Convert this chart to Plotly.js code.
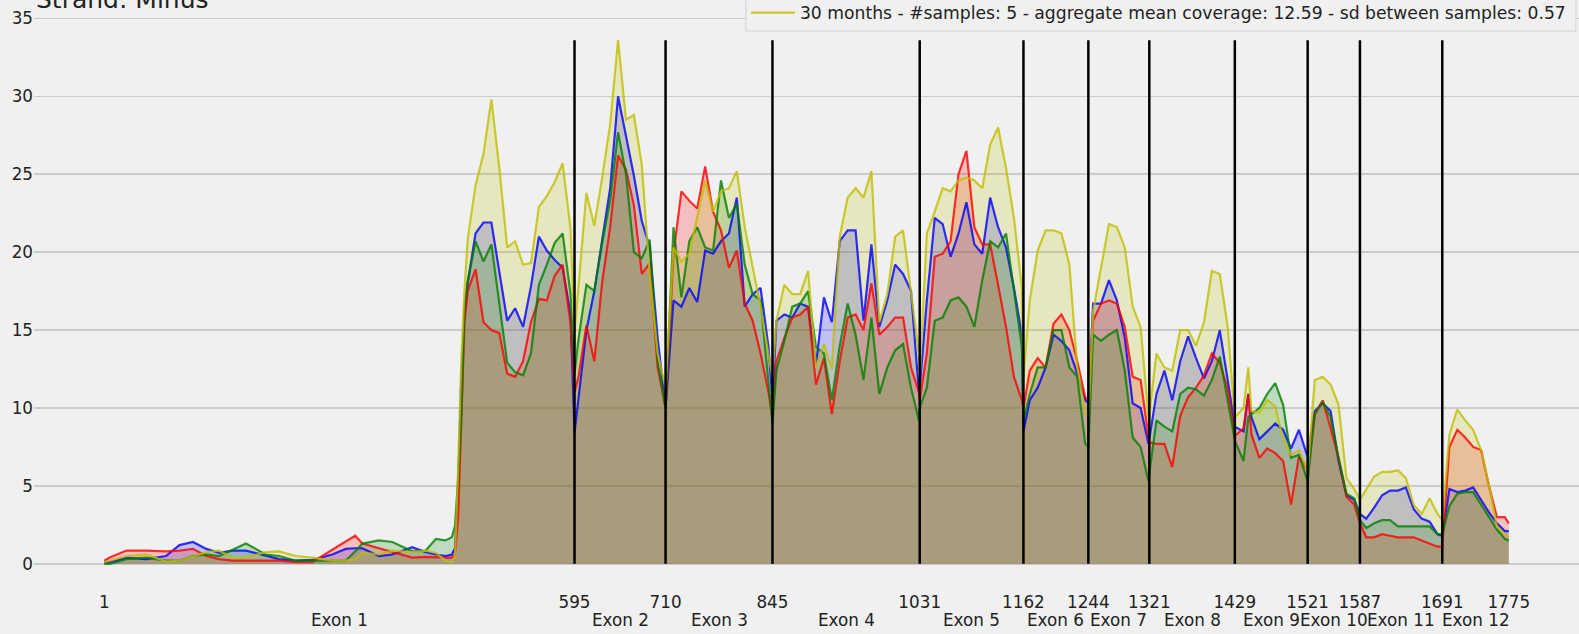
<!DOCTYPE html>
<html>
<head>
<meta charset="utf-8">
<script src="https://cdn.plot.ly/plotly-3.0.1.min.js"></script>
<style>html,body{margin:0;padding:0;background:#f0f0f0;}#chart{width:1579px;height:634px;}</style>
</head>
<body>
<div id="chart"></div>
<script>
// Transcript positions (x) shared by all series
const positions = [1, 8, 29, 54, 79, 96, 113, 130, 146, 163, 180, 205, 222, 243, 264, 289, 306, 318, 327, 348, 365, 390, 407, 420, 432, 440, 444, 448, 452, 456,
  460, 470, 480, 490, 500, 510, 520, 530, 540, 550, 560, 570, 580, 590, 595,
  600, 610, 620, 630, 640, 650, 660, 670, 680, 690, 700, 710,
  720, 730, 740, 750, 760, 770, 780, 790, 800, 810, 820, 830, 840, 845,
  850, 860, 870, 880, 890, 900, 910, 920, 930, 940, 950, 960, 970, 980, 990, 1000, 1010, 1020, 1030, 1031,
  1040, 1050, 1060, 1070, 1080, 1090, 1100, 1110, 1120, 1130, 1140, 1150, 1160, 1162,
  1170, 1180, 1190, 1200, 1210, 1220, 1230, 1240, 1244,
  1250, 1260, 1270, 1280, 1290, 1300, 1310, 1320, 1321,
  1330, 1340, 1350, 1360, 1370, 1380, 1390, 1400, 1410, 1420, 1429,
  1440, 1446, 1450, 1460, 1470, 1480, 1490, 1500, 1510, 1520, 1521,
  1530, 1540, 1550, 1560, 1570, 1580, 1587,
  1595, 1605, 1615, 1625, 1635, 1645, 1655, 1665, 1675, 1685, 1691,
  1700, 1710, 1720, 1730, 1740, 1750, 1760, 1770, 1775];

const coverageRed = [0.2, 0.4, 0.85, 0.85, 0.8, 0.85, 0.96, 0.5, 0.3, 0.2, 0.2, 0.2, 0.2, 0.1, 0.1, 0.9, 1.4, 1.8, 1.3, 1.0, 0.75, 0.4, 0.45, 0.4, 0.4, 0.4, 0.6, 3, 10, 15.5,
  17.5, 18.9, 15.5, 15, 14.8, 12.2, 12, 13, 15.5, 17, 16.9, 18.5, 19.2, 15.4, 11,
  12, 15.3, 13, 18.1, 21.6, 26.2, 25.3, 23, 18.6, 19.3, 12.6, 10,
  19.9, 23.9, 23.3, 22.8, 25.5, 22.6, 21.4, 19, 20.1, 16.7, 15.6, 13.5, 11, 9.4,
  13, 14.5, 15.8, 16, 16.5, 11.5, 13.2, 9.6, 13, 15.8, 16, 15, 18, 14.7, 15.2, 15.8, 15.8, 12.6, 11, 10.5,
  13.5, 19.7, 19.9, 20.7, 25, 26.5, 21.6, 20.5, 20.5, 17.9, 15.2, 12, 10.5, 10,
  12.4, 13.2, 12.6, 15.4, 16, 15, 13, 10.7, 10.5,
  15.6, 16.7, 16.9, 16.7, 15.2, 12, 11.8, 7.9, 7.8,
  7.7, 7.7, 6.2, 9.5, 10.7, 11.3, 12.1, 13.5, 12.9, 11.2, 8.2,
  8.7, 10.9, 8.3, 6.8, 7.4, 7.1, 6.6, 3.8, 6.9, 6.1, 6,
  9.6, 10.5, 8.7, 6.8, 4.3, 3.8, 2.6,
  1.7, 1.7, 1.9, 1.8, 1.7, 1.7, 1.7, 1.5, 1.3, 1.1, 1.1,
  7.5, 8.6, 8.1, 7.5, 7.3, 5, 3, 3, 2.6];

const coverageBlue = [0.1, 0.1, 0.38, 0.3, 0.5, 1.2, 1.4, 0.96, 0.7, 0.85, 0.85, 0.55, 0.3, 0.2, 0.25, 0.6, 0.96, 1.0, 1.0, 0.5, 0.6, 1.07, 0.75, 0.6, 0.5, 0.6, 1, 5, 12, 16,
  18, 21.2, 21.9, 21.9, 18.8, 15.6, 16.4, 15.2, 17.8, 21, 20.1, 19.5, 19, 16, 8.4,
  10.5, 15, 17.5, 20.7, 24.1, 30, 27.5, 24.9, 22, 20.3, 14.5, 10,
  16.9, 16.5, 17.7, 16.8, 20.1, 19.9, 20.7, 21.2, 23.5, 16.5, 17.3, 17.7, 13.9, 10.5,
  15.6, 16, 15.8, 16.7, 16.5, 12.8, 17.1, 15.5, 20.7, 21.4, 21.4, 15.6, 20.5, 15.2, 16.9, 19.2, 18.6, 17.5, 11, 11.3,
  16.9, 22.2, 21.8, 19.7, 21.2, 23.2, 20.5, 19.9, 23.5, 21.6, 20.3, 17.7, 14.7, 8.5,
  10.5, 11.3, 12.6, 14.7, 14.3, 13.7, 12.2, 10.5, 10.3,
  16.7, 16.7, 18.2, 16.9, 14.5, 10.3, 10, 7.7, 8,
  10.9, 12.4, 10.5, 13, 14.6, 13.2, 11.9, 13, 15, 11.8, 8.8,
  8.5, 10.9, 9.4, 8, 8.5, 9, 8.6, 7.4, 8.6, 7, 7,
  9.8, 10.3, 9.8, 6.6, 4.4, 4.1, 3.2,
  2.9, 3.6, 4.4, 4.7, 4.7, 4.9, 3.5, 2.9, 2.7, 1.9, 1.8,
  4.8, 4.6, 4.7, 4.9, 4.1, 3.3, 2.6, 2.1, 2.1];

const coverageGreen = [0, 0, 0.3, 0.4, 0.2, 0.2, 0.5, 0.6, 0.5, 0.9, 1.3, 0.6, 0.5, 0.2, 0.2, 0.2, 0.2, 0.8, 1.3, 1.5, 1.4, 0.8, 0.85, 1.6, 1.5, 1.7, 2.4, 5.5, 9.3, 16.5,
  18.1, 20.7, 19.4, 20.5, 16.6, 12.9, 12.3, 12.1, 13.5, 17.9, 19.2, 20.6, 21.2, 17.3, 12.2,
  14.4, 17.9, 17.5, 20.6, 23.3, 27.7, 25, 20, 19.6, 20.8, 13, 10,
  21.6, 17.1, 20.7, 21.6, 20.3, 20.1, 24.6, 22.2, 23.1, 19.2, 17.3, 16.9, 11.8, 9,
  12.4, 14.3, 16.5, 16.7, 17.5, 13.9, 13.5, 10.5, 14, 16.7, 14.7, 11.8, 15.8, 10.9, 12.6, 13.7, 14.1, 11.3, 9.2, 10,
  11.3, 15.6, 15.8, 16.9, 17.1, 16.5, 15.2, 18.2, 20.7, 20.3, 21.2, 17.7, 13.9, 9.2,
  10.9, 12.6, 12.6, 15, 15, 12.6, 12, 7.7, 7.5,
  14.7, 14.3, 14.7, 15, 12.4, 8.1, 7.5, 5.3, 5.8,
  9.2, 8.8, 8.5, 10.9, 11.3, 11.2, 10.8, 11.8, 13.3, 10.5, 7.9,
  6.6, 9.4, 9.6, 10, 10.9, 11.6, 10.2, 6.8, 7, 5.5, 5.3,
  9.6, 10.4, 9.4, 6.8, 4.5, 4.2, 2.8,
  2.3, 2.6, 2.8, 2.8, 2.4, 2.4, 2.4, 2.4, 2.4, 1.9, 1.9,
  3.7, 4.5, 4.6, 4.6, 3.8, 3, 2.2, 1.6, 1.5];

const coverageYellow = [0.1, 0.2, 0.5, 0.6, 0.15, 0.2, 0.5, 0.75, 0.85, 0.4, 0.4, 0.75, 0.8, 0.5, 0.4, 0.2, 0.2, 0.3, 0.7, 0.6, 0.85, 0.75, 0.85, 0.7, 0.2, 0.1, 0.5, 6, 13, 17.5,
  20.8, 24.3, 26.3, 29.8, 25.4, 20.3, 20.7, 19.2, 19.3, 22.9, 23.6, 24.5, 25.7, 21.5, 14.8,
  18, 23.8, 21.7, 24.8, 28.2, 33.6, 28.5, 28.8, 25.6, 18.5, 13.5, 11.3,
  20.3, 19.4, 19.9, 22.3, 24.6, 22.6, 23.9, 24.1, 25.2, 21.6, 19, 16.5, 13.4, 12,
  15.6, 17.9, 17.3, 17.3, 18.8, 12.6, 14.1, 12.5, 21, 23.5, 24.1, 23.5, 25.2, 15.5, 17.3, 21, 21.4, 17.5, 13.5, 12,
  21.2, 22.6, 24.1, 23.9, 24.6, 24.8, 24.6, 24.1, 26.9, 28, 25.4, 22.2, 17.7, 12,
  16.9, 20.1, 21.4, 21.4, 21.2, 19.2, 12.6, 9.8, 9.4,
  16.2, 19, 21.8, 21.6, 20.3, 16.5, 15.2, 9.4, 9.6,
  13.5, 12.6, 12.4, 15, 15, 14, 15.5, 18.8, 18.6, 15.2, 9.4,
  10, 12.6, 9.8, 9.7, 10.5, 10.1, 8, 7, 7.3, 6.1, 6,
  11.8, 12, 11.5, 10.2, 5.5, 4.8, 4.1,
  4.8, 5.6, 5.9, 5.9, 6, 5.5, 3.8, 3.2, 4.2, 3.2, 2.8,
  8.3, 9.9, 9.2, 8.6, 7.3, 5, 2.4, 1.9, 1.7];

// Exon boundaries and labels
const exonBoundaries = [595, 710, 845, 1031, 1162, 1244, 1321, 1429, 1521, 1587, 1691];
const tickPositions = [1, 595, 710, 845, 1031, 1162, 1244, 1321, 1429, 1521, 1587, 1691, 1775];
const exonLabels = ["Exon 1", "Exon 2", "Exon 3", "Exon 4", "Exon 5", "Exon 6", "Exon 7", "Exon 8", "Exon 9", "Exon 10", "Exon 11", "Exon 12"];
const legendLabel = "30 months - #samples: 5 - aggregate mean coverage: 12.59 - sd between samples: 0.57";
const chartTitle = "Strand: Minus";

const FONT = "DejaVu Sans, Liberation Sans, sans-serif";
const TXT = "#222222";
const series = [
  {name: "group 2", y: coverageBlue, rgb: "0,0,255", legend: false},
  {name: "group 1", y: coverageRed, rgb: "255,0,0", legend: false},
  {name: "group 3", y: coverageGreen, rgb: "0,128,0", legend: false},
  {name: legendLabel, y: coverageYellow, rgb: "191,191,0", legend: true}
];

// fills first (below), then lines on top of all fills
const fillTraces = series.map(s => ({
  type: "scatter", mode: "none", x: positions, y: s.y, name: s.name + " fill",
  showlegend: false, fill: "tozeroy", fillcolor: "rgba(" + s.rgb + ",0.2)", hoverinfo: "skip"
}));
const lineTraces = series.map(s => ({
  type: "scatter", mode: "lines", x: positions, y: s.y, name: s.name,
  showlegend: s.legend, line: {color: "rgba(" + s.rgb + ",0.8)", width: 2.2}, hoverinfo: "skip"
}));

const ymax = Math.max(...coverageRed, ...coverageBlue, ...coverageGreen, ...coverageYellow);
const shapes = exonBoundaries.map(b => ({
  type: "line", xref: "x", yref: "y", x0: b, x1: b, y0: 0, y1: ymax,
  line: {color: "#000000", width: 2.5}, layer: "above"
}));
// legend frame (its upper part runs past the top edge of the figure)
shapes.push({
  type: "rect", xref: "paper", yref: "paper", x0: 0.4608, x1: 0.998, y0: 0.9705, y1: 1.06,
  line: {color: "#d3d3d3", width: 1}, fillcolor: "#f0f0f0", layer: "above"
});

const allBounds = [1].concat(exonBoundaries).concat([1775]);
const annotations = exonLabels.map((t, i) => ({
  text: t, xref: "x", yref: "paper", x: (allBounds[i] + allBounds[i + 1]) / 2,
  y: -0.052, yanchor: "middle", xanchor: "center", showarrow: false,
  font: {family: FONT, size: 16.8, color: TXT}
}));
annotations.push({
  text: chartTitle, xref: "paper", yref: "paper", x: 0, y: 1.025,
  xanchor: "left", yanchor: "middle", showarrow: false,
  font: {family: FONT, size: 25, color: TXT}
});

const layout = {
  width: 1579, height: 634,
  paper_bgcolor: "#f0f0f0", plot_bgcolor: "#f0f0f0",
  margin: {l: 34, r: 0, t: 14, b: 44, autoexpand: false},
  font: {family: FONT, size: 16.8, color: TXT},
  xaxis: {
    range: [-87.7, 1863.7], tickmode: "array", tickvals: tickPositions,
    ticktext: tickPositions.map(String), showgrid: false, zeroline: false,
    showline: false, ticks: "", tickfont: {family: FONT, size: 16.8, color: TXT}
  },
  yaxis: {
    range: [-1.68, 35.28], tickmode: "array", tickvals: [0, 5, 10, 15, 20, 25, 30, 35],
    showgrid: true, gridcolor: "#cbcbcb", gridwidth: 1.5, zeroline: false,
    showline: false, ticks: "", tickfont: {family: FONT, size: 16.8, color: TXT}
  },
  shapes: shapes,
  annotations: annotations,
  showlegend: true,
  legend: {
    x: 0.4608, xanchor: "left", y: 0.9705, yanchor: "bottom",
    bgcolor: "rgba(0,0,0,0)", borderwidth: 0, itemwidth: 44,
    font: {family: FONT, size: 17.2, color: TXT}
  }
};

Plotly.newPlot("chart", fillTraces.concat(lineTraces), layout, {displayModeBar: false, staticPlot: true});
</script>
</body>
</html>
